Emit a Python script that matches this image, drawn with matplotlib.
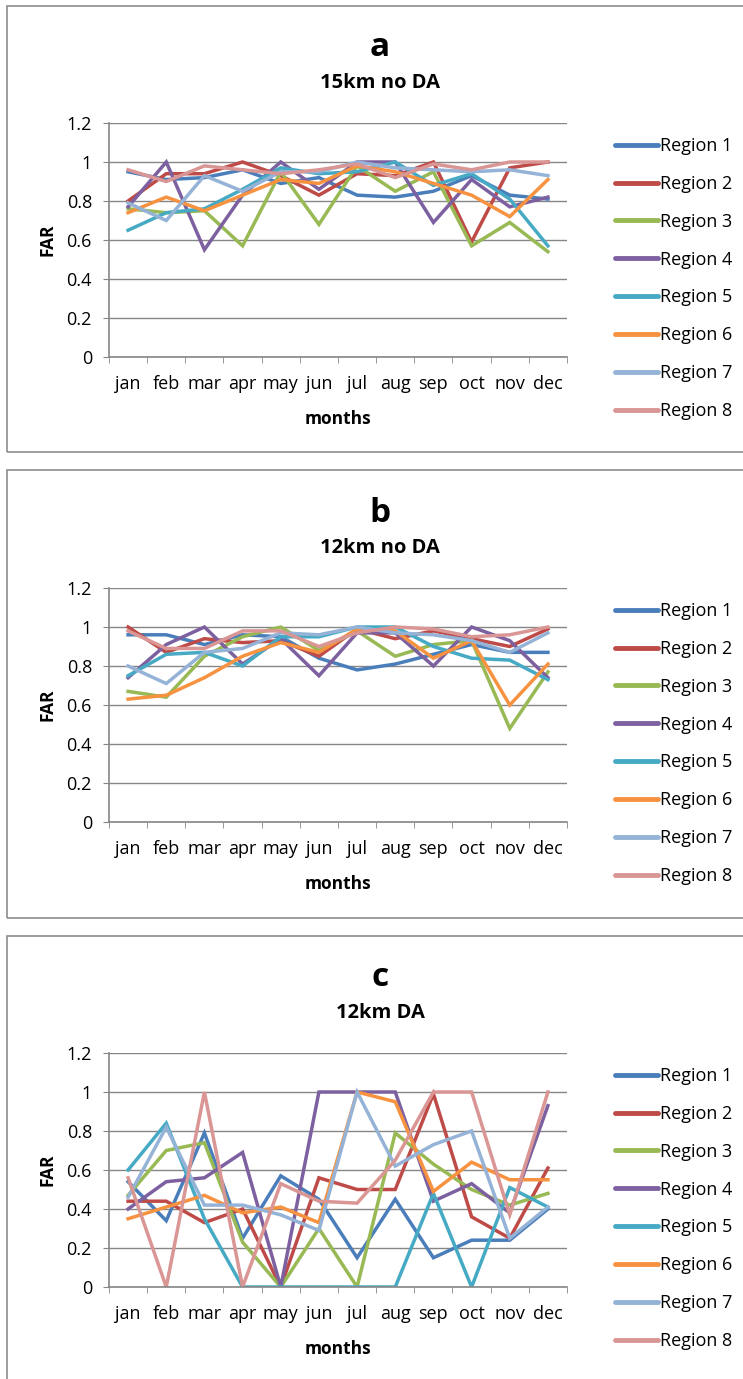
import matplotlib
matplotlib.use("Agg")
import matplotlib.pyplot as plt
from matplotlib.patches import Rectangle

months = ["jan", "feb", "mar", "apr", "may", "jun", "jul", "aug", "sep", "oct", "nov", "dec"]
regions = ["Region 1", "Region 2", "Region 3", "Region 4", "Region 5", "Region 6", "Region 7", "Region 8"]
colors = ["#4A7EBB", "#BE4B48", "#98B954", "#7D60A0", "#46AAC5", "#F69240", "#95B3D7", "#D99694"]

# Panel a: 15km no DA
a_r1 = [0.95, 0.91, 0.92, 0.96, 0.89, 0.92, 0.83, 0.82, 0.85, 0.93, 0.83, 0.81]
a_r2 = [0.80, 0.94, 0.94, 1.00, 0.93, 0.83, 0.94, 0.93, 1.00, 0.59, 0.97, 1.00]
a_r3 = [0.76, 0.74, 0.75, 0.57, 0.95, 0.68, 0.98, 0.85, 0.95, 0.57, 0.69, 0.54]
a_r4 = [0.77, 1.00, 0.55, 0.83, 1.00, 0.86, 1.00, 1.00, 0.69, 0.91, 0.77, 0.82]
a_r5 = [0.65, 0.74, 0.76, 0.86, 0.97, 0.94, 0.95, 1.00, 0.88, 0.94, 0.81, 0.57]
a_r6 = [0.74, 0.82, 0.75, 0.83, 0.91, 0.89, 0.98, 0.95, 0.89, 0.83, 0.72, 0.91]
a_r7 = [0.79, 0.70, 0.93, 0.85, 0.95, 0.95, 1.00, 0.97, 0.96, 0.95, 0.96, 0.93]
a_r8 = [0.96, 0.90, 0.98, 0.96, 0.94, 0.96, 0.99, 0.92, 0.99, 0.96, 1.00, 1.00]

# Panel b: 12km no DA
b_r1 = [0.96, 0.96, 0.91, 0.96, 0.95, 0.84, 0.78, 0.81, 0.86, 0.91, 0.87, 0.87]
b_r2 = [1.00, 0.87, 0.94, 0.92, 0.93, 0.85, 0.99, 0.94, 0.98, 0.94, 0.90, 0.99]
b_r3 = [0.67, 0.64, 0.85, 0.95, 1.00, 0.88, 0.98, 0.85, 0.91, 0.93, 0.48, 0.77]
b_r4 = [0.74, 0.91, 1.00, 0.81, 0.94, 0.75, 0.97, 0.97, 0.80, 1.00, 0.93, 0.74]
b_r5 = [0.75, 0.86, 0.87, 0.80, 0.95, 0.95, 1.00, 1.00, 0.90, 0.84, 0.83, 0.73]
b_r6 = [0.63, 0.65, 0.74, 0.85, 0.92, 0.87, 0.99, 0.98, 0.84, 0.93, 0.60, 0.81]
b_r7 = [0.80, 0.71, 0.87, 0.89, 0.97, 0.96, 1.00, 0.97, 0.96, 0.93, 0.87, 0.97]
b_r8 = [0.98, 0.89, 0.89, 0.98, 0.98, 0.90, 0.97, 1.00, 0.99, 0.95, 0.96, 1.00]

# Panel c: 12km DA
c_r1 = [0.54, 0.34, 0.79, 0.25, 0.57, 0.45, 0.15, 0.45, 0.15, 0.24, 0.24, 0.40]
c_r2 = [0.44, 0.44, 0.33, 0.40, 0.00, 0.56, 0.50, 0.50, 0.99, 0.36, 0.25, 0.61]
c_r3 = [0.47, 0.70, 0.74, 0.23, 0.00, 0.30, 0.00, 0.79, 0.63, 0.50, 0.42, 0.48]
c_r4 = [0.40, 0.54, 0.56, 0.69, 0.00, 1.00, 1.00, 1.00, 0.44, 0.53, 0.38, 0.93]
c_r5 = [0.60, 0.84, 0.35, 0.00, 0.00, 0.00, 0.00, 0.00, 0.48, 0.00, 0.51, 0.41]
c_r6 = [0.35, 0.41, 0.47, 0.38, 0.41, 0.33, 1.00, 0.95, 0.49, 0.64, 0.55, 0.55]
c_r7 = [0.46, 0.82, 0.42, 0.42, 0.37, 0.29, 1.00, 0.62, 0.73, 0.80, 0.25, 0.41]
c_r8 = [0.56, 0.00, 1.00, 0.00, 0.53, 0.44, 0.43, 0.65, 1.00, 1.00, 0.37, 1.00]

panel_letters = ["a", "b", "c"]
panel_titles = ["15km no DA", "12km no DA", "12km DA"]
yticks = [0, 0.2, 0.4, 0.6, 0.8, 1, 1.2]
ytick_labels = ["0", "0.2", "0.4", "0.6", "0.8", "1", "1.2"]

panels = [
    [a_r1, a_r2, a_r3, a_r4, a_r5, a_r6, a_r7, a_r8],
    [b_r1, b_r2, b_r3, b_r4, b_r5, b_r6, b_r7, b_r8],
    [c_r1, c_r2, c_r3, c_r4, c_r5, c_r6, c_r7, c_r8],
]

FONT = ["Open Sans", "DejaVu Sans"]
plt.rcParams["font.family"] = FONT

W, H = 743, 1379
fig = plt.figure(figsize=(W / 100, H / 100), dpi=100)

def fx(px):
    return px / W

def fy(py):
    return 1 - py / H

box_tops = [6, 470, 936]
box_bottoms = [452, 918, 1395]
ax_tops = [123, 588, 1053]
offsets = [0, 465, 930]

grey = "#868686"
for i in range(3):
    bt, bb = box_tops[i], box_bottoms[i]
    fig.patches.append(Rectangle((fx(7), fy(bb)), fx(760) - fx(7), fy(bt) - fy(bb),
                                 transform=fig.transFigure, fill=False,
                                 edgecolor="#8C8C8C", linewidth=1.2))
    top = ax_tops[i]
    bottom = top + 234
    ax = fig.add_axes([fx(109), fy(bottom), fx(567) - fx(109), fy(top) - fy(bottom)])
    x = list(range(12))
    for vals, name, col in zip(panels[i], regions, colors):
        ax.plot(x, vals, color=col, linewidth=2.5, label=name, solid_joinstyle="miter")
    ax.set_xlim(-0.5, 11.5)
    ax.set_ylim(0, 1.2)
    ax.set_yticks(yticks)
    ax.set_yticklabels(ytick_labels, fontsize=13)
    ax.set_xticks(x)
    ax.set_xticklabels(months, fontsize=13)
    ax.set_xticks([k - 0.5 for k in range(13)], minor=True)
    ax.tick_params(axis="x", which="major", length=0, pad=13)
    ax.tick_params(axis="x", which="minor", length=4.3, color=grey, direction="out")
    ax.tick_params(axis="y", length=4.3, color=grey, direction="out", pad=8)
    ax.grid(axis="y", color=grey, linewidth=1)
    ax.set_axisbelow(True)
    for s in ["top", "right"]:
        ax.spines[s].set_visible(False)
    for s in ["left", "bottom"]:
        ax.spines[s].set_color(grey)
        ax.spines[s].set_linewidth(1.2)
    ax.set_ylabel("FAR", fontsize=12.5, fontweight="bold", labelpad=7)
    ax.set_xlabel("months", fontsize=12.5, fontweight="bold", labelpad=12)

    o = offsets[i]
    fig.text(fx(380), fy(48 + o), panel_letters[i], fontsize=24, fontweight="bold",
             ha="center", va="center")
    fig.text(fx(380), fy(83 + o), panel_titles[i], fontsize=14.5, fontweight="bold",
             ha="center", va="center")

    leg = ax.legend(loc="upper left", bbox_to_anchor=(fx(615), fy(137 + o)),
                    bbox_transform=fig.transFigure, frameon=False, fontsize=13,
                    handlelength=2.4, handletextpad=0.12, labelspacing=1.1,
                    borderaxespad=0, borderpad=0)
    for ln in leg.get_lines():
        ln.set_linewidth(3.5)
        ln.set_solid_capstyle("round")

fig.savefig("out.png", dpi=100, facecolor="white")
